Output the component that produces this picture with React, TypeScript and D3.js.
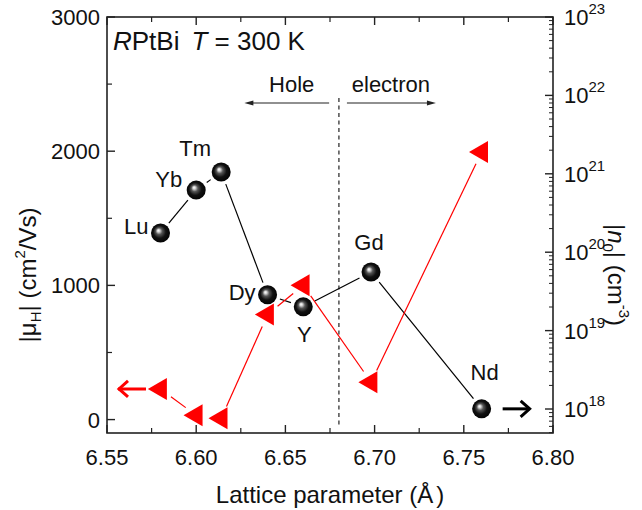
import React from "react";
import * as d3 from "d3";

// ---- data ----
const elements = ["Lu", "Yb", "Tm", "Dy", "Y", "Gd", "Nd"];
const latticeParam = [6.58, 6.6, 6.614, 6.64, 6.66, 6.698, 6.76];
const mobility = [1390, 1710, 1845, 930, 840, 1100, 80];
const carrierDensity = [1.8e18, 8.3e17, 7.6e17, 1.6e19, 3.8e19, 2.2e18, 1.9e21];
const xTicks = [6.55, 6.6, 6.65, 6.7, 6.75, 6.8];
const xMinorTicks = [6.575, 6.625, 6.675, 6.725, 6.775];
const yTicks = [0, 1000, 2000, 3000];
const yMinorTicks = [500, 1500, 2500];
const rightExponents = [18, 19, 20, 21, 22, 23];
const boundary = 6.68;

// ---- layout (not data) ----
const W = 642;
const H = 510;
const L = 107, R = 553, T = 17, B = 433;
const FONT = "'Liberation Sans', Arial, Helvetica, sans-serif";
const labelLayout = [
  { anchor: "end", dx: -12, dy: 1 },
  { anchor: "end", dx: -14, dy: -3 },
  { anchor: "middle", dx: -26, dy: -16 },
  { anchor: "end", dx: -12, dy: 5 },
  { anchor: "middle", dx: 1, dy: 35 },
  { anchor: "middle", dx: -2, dy: -22 },
  { anchor: "middle", dx: 3, dy: -29 },
];

const x = d3.scaleLinear().domain([6.55, 6.8]).range([L, R]);
const yL = d3.scaleLinear().domain([-100, 3000]).range([B, T]);
const yR = d3.scaleLog().domain([Math.pow(10, 17.694), 1e23]).range([B, T]);

function gapSegments(pts: [number, number][], gap: number) {
  const segs: { x1: number; y1: number; x2: number; y2: number }[] = [];
  for (let i = 0; i < pts.length - 1; i++) {
    const [ax, ay] = pts[i];
    const [bx, by] = pts[i + 1];
    const d = Math.hypot(bx - ax, by - ay);
    if (d <= 2 * gap) continue;
    const ux = (bx - ax) / d, uy = (by - ay) / d;
    segs.push({ x1: ax + ux * gap, y1: ay + uy * gap, x2: bx - ux * gap, y2: by - uy * gap });
  }
  return segs;
}

export default function App() {
  const blackPts: [number, number][] = latticeParam.map((v, i) => [x(v), yL(mobility[i])]);
  const redPts: [number, number][] = latticeParam.map((v, i) => [x(v), yR(carrierDensity[i])]);
  const blackSegs = gapSegments(blackPts, 13);
  const redSegs = gapSegments(redPts, 13);

  const rightMinor: number[] = [];
  const [dMin, dMax] = yR.domain();
  for (let e = 17; e <= 22; e++) {
    for (let m = 2; m <= 9; m++) {
      const v = m * Math.pow(10, e);
      if (v >= dMin && v <= dMax) rightMinor.push(v);
    }
  }

  const triW = 19, triH = 22;
  const triPath = (cx: number, cy: number) =>
    `M${cx - (2 * triW) / 3},${cy} L${cx + triW / 3},${cy - triH / 2} L${cx + triW / 3},${cy + triH / 2} Z`;

  const xDash = x(boundary);

  return (
    <svg
      width={W}
      height={H}
      style={{ position: "absolute", left: 0, top: 0, background: "#fff" }}
      fontFamily={FONT}
    >
      <defs>
        <radialGradient id="sphere" cx="50%" cy="50%" r="55%" fx="38%" fy="36%">
          <stop offset="0%" stopColor="#ffffff" />
          <stop offset="12%" stopColor="#d8d8d8" />
          <stop offset="32%" stopColor="#555555" />
          <stop offset="60%" stopColor="#111111" />
          <stop offset="100%" stopColor="#000000" />
        </radialGradient>
      </defs>
      <rect x={0} y={0} width={W} height={H} fill="#fff" />

      {/* dashed boundary */}
      <line x1={xDash} x2={xDash} y1={98} y2={428} stroke="#222" strokeWidth={1.2} strokeDasharray="4,3.5" />

      {/* hole / electron arrows */}
      <line x1={x(6.679) - 8} x2={x(6.627) + 6} y1={103} y2={103} stroke="#222" strokeWidth={1.2} />
      <path d={`M${x(6.627)},103 l9,-2.6 l0,5.2 Z`} fill="#222" />
      <text x={x(6.6535)} y={92} fontSize={22} textAnchor="middle" fill="#111">Hole</text>
      <line x1={xDash + 8} x2={x(6.68) + 90} y1={103} y2={103} stroke="#222" strokeWidth={1.2} />
      <path d={`M${x(6.68) + 97},103 l-9,-2.6 l0,5.2 Z`} fill="#222" />
      <text x={x(6.68) + 52} y={92} fontSize={22} textAnchor="middle" fill="#111">electron</text>

      {/* connecting lines */}
      {blackSegs.map((s, i) => (
        <line key={"b" + i} {...s} stroke="#000" strokeWidth={1.2} />
      ))}
      {redSegs.map((s, i) => (
        <line key={"r" + i} {...s} stroke="#ff0000" strokeWidth={1.2} />
      ))}

      {/* red triangles */}
      {redPts.map(([cx, cy], i) => (
        <path key={"t" + i} d={triPath(cx, cy)} fill="#ff0000" />
      ))}

      {/* black spheres */}
      {blackPts.map(([cx, cy], i) => (
        <circle key={"c" + i} cx={cx} cy={cy} r={9.5} fill="url(#sphere)" />
      ))}

      {/* element labels */}
      {blackPts.map(([cx, cy], i) => (
        <text
          key={"l" + i}
          x={cx + labelLayout[i].dx}
          y={cy + labelLayout[i].dy}
          textAnchor={labelLayout[i].anchor as any}
          fontSize={22}
          fill="#111"
        >
          {elements[i]}
        </text>
      ))}

      {/* axis-direction arrows */}
      <g stroke="#ff0000" strokeWidth={3} fill="none">
        <line x1={x(6.55) + 11} x2={x(6.55) + 39} y1={yR(carrierDensity[0])} y2={yR(carrierDensity[0])} />
        <polyline
          points={`${x(6.55) + 21},${yR(carrierDensity[0]) - 8} ${x(6.55) + 12},${yR(carrierDensity[0])} ${x(6.55) + 21},${yR(carrierDensity[0]) + 8}`}
        />
      </g>
      <g stroke="#000" strokeWidth={3} fill="none">
        <line x1={x(6.76) + 21} x2={x(6.76) + 48} y1={yL(mobility[6])} y2={yL(mobility[6])} />
        <polyline
          points={`${x(6.76) + 39},${yL(mobility[6]) - 8} ${x(6.76) + 48},${yL(mobility[6])} ${x(6.76) + 39},${yL(mobility[6]) + 8}`}
        />
      </g>

      {/* frame */}
      <rect x={L} y={T} width={R - L} height={B - T} fill="none" stroke="#222" strokeWidth={1.6} />

      {/* x ticks bottom & top */}
      {xTicks.map((t) => (
        <g key={"xt" + t}>
          <line x1={x(t)} x2={x(t)} y1={B} y2={B - 8} stroke="#222" strokeWidth={1.4} />
          <line x1={x(t)} x2={x(t)} y1={T} y2={T + 8} stroke="#222" strokeWidth={1.4} />
          <text x={x(t)} y={B + 32} fontSize={22} textAnchor="middle" fill="#111">
            {t.toFixed(2)}
          </text>
        </g>
      ))}
      {xMinorTicks.map((t) => (
        <g key={"xm" + t}>
          <line x1={x(t)} x2={x(t)} y1={B} y2={B - 5} stroke="#222" strokeWidth={1.2} />
          <line x1={x(t)} x2={x(t)} y1={T} y2={T + 5} stroke="#222" strokeWidth={1.2} />
        </g>
      ))}

      {/* left ticks */}
      {yTicks.map((t) => (
        <g key={"yt" + t}>
          <line x1={L} x2={L + 8} y1={yL(t)} y2={yL(t)} stroke="#222" strokeWidth={1.4} />
          <text x={L - 7} y={yL(t) + 8} fontSize={22} textAnchor="end" fill="#111">
            {t}
          </text>
        </g>
      ))}
      {yMinorTicks.map((t) => (
        <line key={"ym" + t} x1={L} x2={L + 5} y1={yL(t)} y2={yL(t)} stroke="#222" strokeWidth={1.2} />
      ))}

      {/* right log ticks */}
      {rightExponents.map((e) => {
        const yy = yR(Math.pow(10, e));
        return (
          <g key={"re" + e}>
            <line x1={R} x2={R - 8} y1={yy} y2={yy} stroke="#222" strokeWidth={1.4} />
            <text x={R + 11} y={yy + 8} fontSize={22} fill="#111">
              10
              <tspan fontSize={15} dy={-11}>{e}</tspan>
            </text>
          </g>
        );
      })}
      {rightMinor.map((v, i) => (
        <line key={"rm" + i} x1={R} x2={R - 4} y1={yR(v)} y2={yR(v)} stroke="#222" strokeWidth={1} />
      ))}

      {/* title */}
      <text x={L + 6} y={50} fontSize={26} fill="#111">
        <tspan fontStyle="italic">R</tspan>
        <tspan>PtBi</tspan>
        <tspan dx={12} fontStyle="italic">T</tspan>
        <tspan> = 300 K</tspan>
      </text>

      {/* x axis title */}
      <text x={(L + R) / 2} y={503} fontSize={24} textAnchor="middle" fill="#111">
        Lattice parameter (Å<tspan dx={3}>)</tspan>
      </text>

      {/* left axis title */}
      <text transform="translate(36,275) rotate(-90)" fontSize={24} textAnchor="middle" fill="#111">
        |μ<tspan fontSize={15} dy={5}>H</tspan>
        <tspan dy={-5}>| (cm</tspan>
        <tspan fontSize={15} dy={-11}>2</tspan>
        <tspan dy={11}>/Vs)</tspan>
      </text>

      {/* right axis title */}
      <text transform="translate(608,275) rotate(90)" fontSize={24} textAnchor="middle" fill="#111">
        |<tspan fontStyle="italic">n</tspan>
        <tspan fontSize={15} dy={5}>0</tspan>
        <tspan dy={-5}>| (cm</tspan>
        <tspan fontSize={15} dy={-11}>-3</tspan>
        <tspan dy={11}>)</tspan>
      </text>
    </svg>
  );
}
